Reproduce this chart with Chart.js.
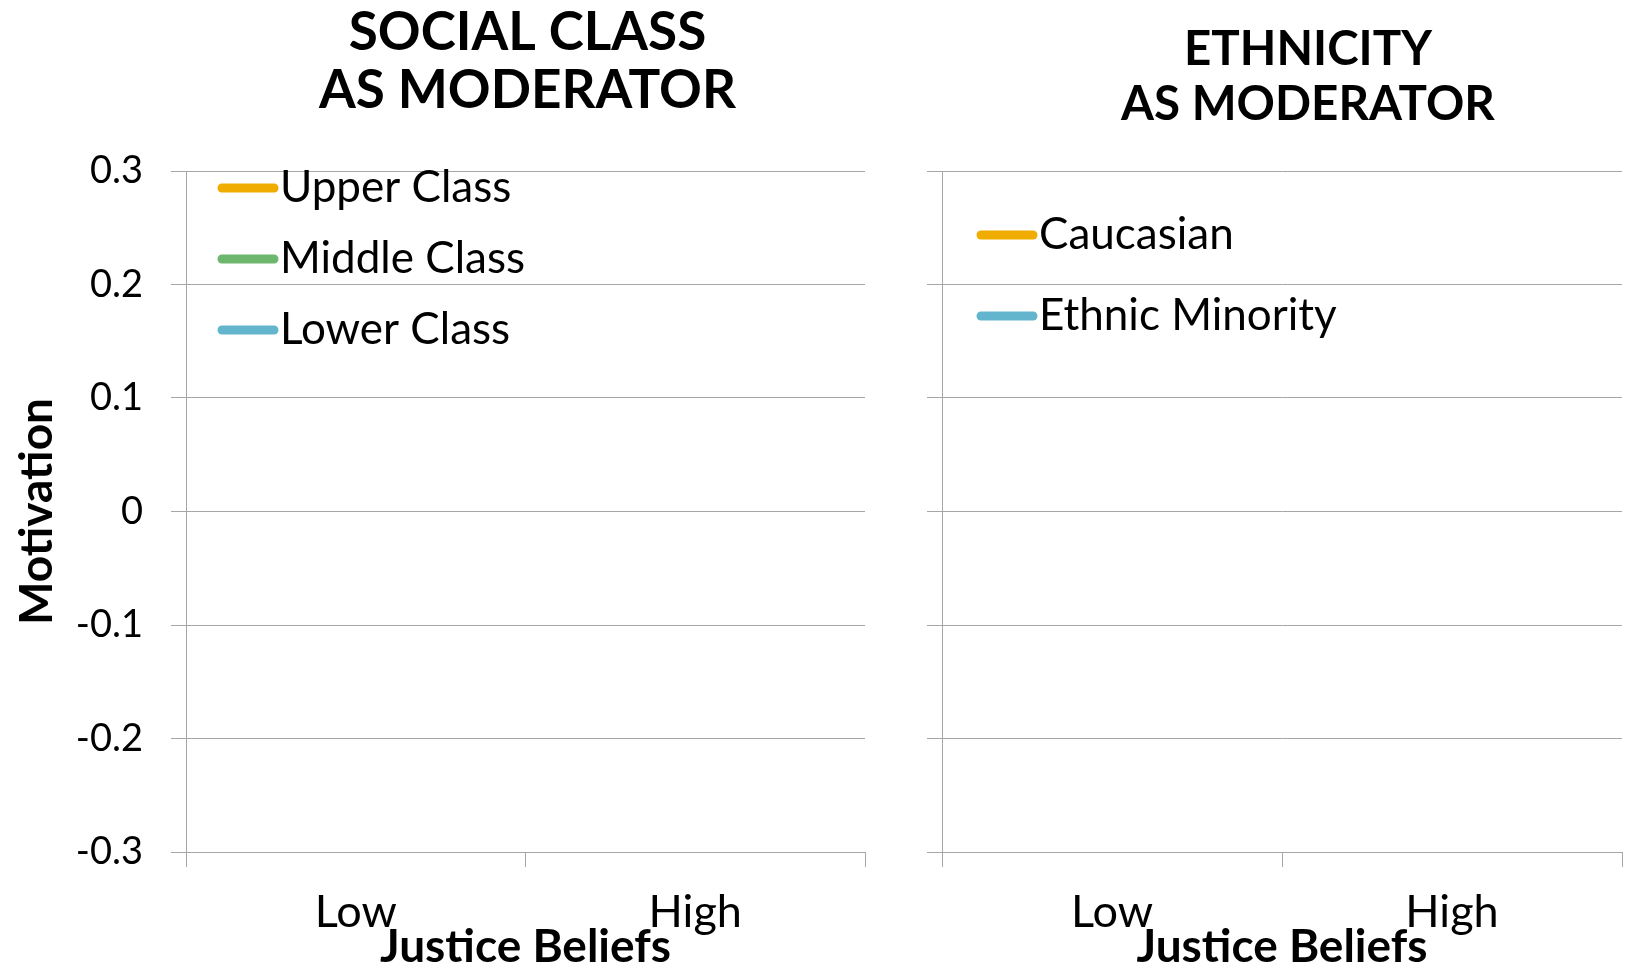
<!DOCTYPE html>
<html lang="en">

<head>
  <meta charset="UTF-8">
  <title>Justice Beliefs and Motivation</title>
  <script src="https://cdn.jsdelivr.net/npm/chart.js"></script>
  <style>
    html, body { margin: 0; padding: 0; background: #fff; }
    .stage { position: relative; width: 1625px; height: 968px; }
    canvas { position: absolute; top: 0; }
  </style>
</head>

<body>
  <div class="stage">
    <canvas id="classChart" width="880" height="968" style="left:0"></canvas>
    <canvas id="ethnicChart" width="745" height="968" style="left:880px"></canvas>
  </div>

  <script>
    // data (no lines were drawn in the source image)
    const categories = ['Low', 'High'];
    const yTicks = [-0.3, -0.2, -0.1, 0, 0.1, 0.2, 0.3];

    const upperClass = [null, null];
    const middleClass = [null, null];
    const lowerClass = [null, null];
    const caucasian = [null, null];
    const ethnicMinority = [null, null];

    const ORANGE = '#F0AC00';
    const GREEN = '#6DB66E';
    const BLUE = '#62B5CD';
    const GRID = '#A6A6A6';
    const FONT = 'Lato, "Open Sans", sans-serif';

    // titles + legend sit inside / above the plot, drawn by hand
    const panelDecor = {
      id: 'panelDecor',
      afterDraw(chart, args, opts) {
        const { ctx, chartArea } = chart;
        ctx.save();
        ctx.fillStyle = '#000';
        ctx.textAlign = 'center';
        ctx.textBaseline = 'middle';
        ctx.font = 'bold ' + opts.titleSize + 'px ' + FONT;
        const cx = (chartArea.left + chartArea.right) / 2 + opts.titleShift;
        opts.title.forEach((line, i) => ctx.fillText(line, cx, opts.titleY[i]));

        ctx.textAlign = 'left';
        ctx.font = opts.legendSize + 'px ' + FONT;
        chart.data.datasets.forEach((ds, i) => {
          const y = chartArea.top + opts.legendTop + i * opts.legendGap;
          const x0 = chartArea.left + opts.legendLeft;
          ctx.strokeStyle = ds.borderColor;
          ctx.lineWidth = 9;
          ctx.lineCap = 'round';
          ctx.beginPath();
          ctx.moveTo(x0 + 4, y);
          ctx.lineTo(x0 + 56, y);
          ctx.stroke();
          ctx.fillText(ds.label, x0 + 62, y);
        });
        ctx.restore();
      }
    };

    function makeSeries(label, data, color) {
      return { label, data, borderColor: color, backgroundColor: color, borderWidth: 6, pointRadius: 0, tension: 0 };
    }

    function makeOptions(cfg) {
      return {
        responsive: false,
        animation: false,
        layout: { padding: { left: 0, right: cfg.padRight, top: 171, bottom: 0 } },
        plugins: {
          legend: { display: false },
          tooltip: { enabled: false },
          panelDecor: cfg.decor
        },
        scales: {
          x: {
            type: 'category',
            offset: true,
            grid: { offset: true, drawOnChartArea: false, drawTicks: true, tickLength: 15, color: GRID },
            border: { color: GRID, width: 1 },
            ticks: { color: '#000', font: { family: FONT, size: 45 }, padding: 18, maxRotation: 0 },
            title: { display: true, text: 'Justice Beliefs', color: '#000', font: { family: FONT, size: 46, weight: 'bold' }, padding: { top: 0, bottom: -7 } },
            afterFit: s => { s.height = 116; }
          },
          y: {
            min: -0.3,
            max: 0.3,
            afterBuildTicks: s => { s.ticks = yTicks.map(v => ({ value: v })); },
            grid: { drawTicks: true, tickLength: 15, color: GRID },
            border: { color: GRID, width: 1 },
            ticks: {
              display: cfg.showY,
              color: '#000',
              font: { family: FONT, size: 38 },
              padding: 28,
              callback: v => String(Math.round(v * 10) / 10)
            },
            title: { display: cfg.showY, text: 'Motivation', color: '#000', font: { family: FONT, size: 46, weight: 'bold' }, padding: { top: 10, bottom: 0 } },
            afterFit: s => { s.width = cfg.yWidth; }
          }
        }
      };
    }

    new Chart(document.getElementById('classChart'), {
      type: 'line',
      data: {
        labels: categories,
        datasets: [
          makeSeries('Upper Class', upperClass, ORANGE),
          makeSeries('Middle Class', middleClass, GREEN),
          makeSeries('Lower Class', lowerClass, BLUE)
        ]
      },
      options: makeOptions({
        padRight: 15, yWidth: 186, showY: true,
        decor: { title: ['SOCIAL CLASS', 'AS MODERATOR'], titleY: [33, 91], titleSize: 53, titleShift: 2,
                 legendLeft: 32, legendTop: 17, legendGap: 71, legendSize: 44 }
      }),
      plugins: [panelDecor]
    });

    new Chart(document.getElementById('ethnicChart'), {
      type: 'line',
      data: {
        labels: categories,
        datasets: [
          makeSeries('Caucasian', caucasian, ORANGE),
          makeSeries('Ethnic Minority', ethnicMinority, BLUE)
        ]
      },
      options: makeOptions({
        padRight: 3, yWidth: 62, showY: false,
        decor: { title: ['ETHNICITY', 'AS MODERATOR'], titleY: [50, 105], titleSize: 47.5, titleShift: 26,
                 legendLeft: 35, legendTop: 64, legendGap: 81, legendSize: 44 }
      }),
      plugins: [panelDecor]
    });
  </script>
</body>

</html>
